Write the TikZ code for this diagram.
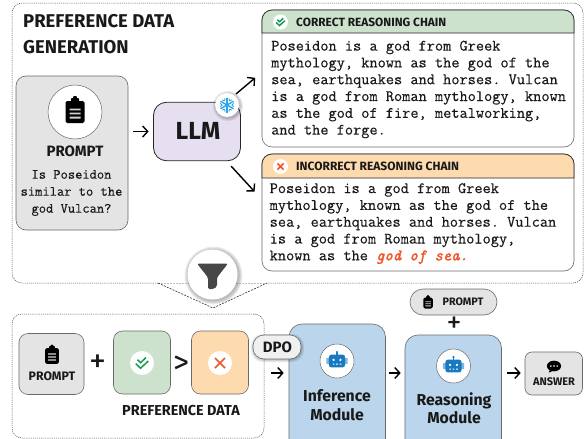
\documentclass[tikz,border=0pt]{standalone}
\usepackage{fontspec}
\setsansfont{Fira Sans}
\setmonofont[FakeBold=0.3]{Latin Modern Mono}
\usetikzlibrary{shadows,calc,arrows.meta}
\definecolor{boxgray}{HTML}{E4E4E4}
\definecolor{llmpurple}{HTML}{E6DFF0}
\definecolor{hdrgreen}{HTML}{CCE2CC}
\definecolor{hdrorange}{HTML}{FDDBAE}
\definecolor{modblue}{HTML}{BBD5EC}
\definecolor{okgreen}{HTML}{169A4F}
\definecolor{xorange}{HTML}{F0562A}
\definecolor{iceblue}{HTML}{2BA6E8}
\definecolor{robotblue}{HTML}{1878C0}
\definecolor{edgegray}{HTML}{6A6A6A}
\tikzset{
  x=1pt,y=-1pt,
  softbox/.style={draw=edgegray,line width=.6pt,rounded corners=#1,inner sep=0pt},
  softbox/.default=10pt,
  dashedge/.style={draw=black!70,line width=.5pt,dash pattern=on 1.1pt off 1pt},
  flowarrow/.style={draw=black,line width=1.4pt,-{Straight Barb[length=5pt,width=11pt,line width=1.4pt]}},
  iconring/.style={circle,fill=white,draw=edgegray,line width=.5pt,inner sep=0pt},
  iconspot/.style={circle,fill=white,inner sep=0pt},
  sanslabel/.style={font=\sffamily\bfseries,inner sep=0pt,text=black!90},
  monolabel/.style={font=\ttfamily\frenchspacing\fontsize{15.9}{16.8}\selectfont,align=left,inner sep=0pt,anchor=north west,text=black!90},
  iconclipboard/.pic={
    \fill[black,rounded corners=1.6] (-9.5,-9) rectangle (9.5,13);
    \fill[black,rounded corners=.8] (-4,-12) rectangle (4,-6);
    \fill[black] (0,-12) circle (2.2);
    \fill[white!82!black] (-5.5,-1.5) rectangle (5.5,.3) (-5.5,2.6) rectangle (5.5,4.4) (-5.5,6.7) rectangle (5.5,8.5);
  },
  iconchecks/.pic={
    \draw[okgreen,line width=1.5pt,line join=miter] (-5,-3.6) -- (-1.5,-.4) -- (4.4,-6);
    \draw[okgreen,line width=1.5pt,line join=miter] (-7,.7) -- (-1.6,5.8) -- (7,-2.2);
  },
  iconcross/.pic={
    \draw[xorange,line width=1.7pt] (-5,-5) -- (5,5) (-5,5) -- (5,-5);
  },
  iconflake/.pic={
    \foreach \a in {90,30,-30}{
      \draw[iceblue,line width=1.4pt] (\a:-7.5) -- (\a:7.5);
    }
    \foreach \a in {0,60,...,300}{
      \draw[iceblue,line width=.9pt] (\a:4.8) -- ++(\a+40:2.6) (\a:4.8) -- ++(\a-40:2.6);
    }
  },
  iconrobot/.pic={
    \fill[robotblue] (0,-10.5) circle (1.4);
    \fill[robotblue] (-.7,-10) rectangle (.7,-7);
    \fill[robotblue!55!white] (-12.5,-3.5) rectangle (-9,3.5) (9,-3.5) rectangle (12.5,3.5);
    \fill[robotblue,rounded corners=2.5] (-9.5,-7.5) rectangle (9.5,7.5);
    \fill[white] (-4,-1.3) circle (1.5) (4,-1.3) circle (1.5);
    \fill[white] (-5,3) rectangle (-3,4.3) (-1,3) rectangle (1,4.3) (3,3) rectangle (5,4.3);
  },
  iconfunnel/.pic={
    \fill[black!72,rounded corners=1.5] (-15.5,-13) -- (15.5,-13) -- (4.5,1) -- (4.5,10) -- (1,12.5) -- (-4.5,12.5) -- (-4.5,1) -- cycle;
  },
  iconbubble/.pic={
    \fill[black] (0,-.5) ellipse (7.5 and 5.6);
    \fill[black] (-4,2.5) -- (-5.5,6.5) -- (0,4) -- cycle;
    \fill[white] (-3.3,-.5) circle (.9) (0,-.5) circle (.9) (3.3,-.5) circle (.9);
  },
}
\begin{document}
\begin{tikzpicture}
\useasboundingbox (0,0) rectangle (584,439);
\clip (0,0) rectangle (584,439);
\fill[white] (0,0) rectangle (584,439);

% outer regions
\draw[dashedge,rounded corners=10pt] (158,283) -- (12,283) -- (12,3) -- (583,3) -- (583,283) -- (267,283);
\draw[black!25,line width=.4pt,dash pattern=on 1.5pt off 1.5pt] (158,283) -- (267,283);
\coordinate (tipL) at (158,283);
\coordinate (tipC) at (213,308);
\coordinate (tipR) at (267,283);
\draw[black!80,line width=.6pt,dash pattern=on 2pt off 1.2pt] (tipL) -- (tipC) -- (tipR);
\node[dashedge,draw,rounded corners=10pt,minimum width=252pt,minimum height=124pt,inner sep=0pt] (lowerzone) at (138,376) {};

% title
\node[sanslabel,font=\sffamily\bfseries\fontsize{18.5}{25.5}\selectfont,align=left,anchor=north west] (title) at (23,14.5) {PREFERENCE DATA\\GENERATION};

% prompt card
\node[softbox,fill=boxgray,minimum width=112pt,minimum height=154pt] (prompt) at (72,153) {};
\node[iconring,minimum size=54pt] (promptring) at (75,112) {};
\pic[scale=1] at (75,110) {iconclipboard};
\node[sanslabel,font=\sffamily\bfseries\fontsize{15}{17}\selectfont] (promptlabel) at (75,151) {PROMPT};
\node[font=\ttfamily\frenchspacing\fontsize{14.1}{17}\selectfont,align=center,inner sep=0pt,text=black!90] (prompttext) at (71.5,193) {Is Poseidon\\similar to the\\god Vulcan?};

% LLM
\node[draw=black!85,line width=.8pt,fill=llmpurple,rounded corners=13pt,minimum width=87pt,minimum height=58.5pt,inner sep=0pt] (llm) at (197,131.5) {};
\node[sanslabel,font=\sffamily\bfseries\fontsize{24.7}{27}\selectfont] (llmlabel) at (198,131) {LLM};
\foreach \r in {13,14,15}{\fill[black,opacity=.08] (228,106) circle (\r);}
\node[circle,fill=white,minimum size=24pt,inner sep=0pt] (snow) at (227,105) {};
\pic at (227,105) {iconflake};

% reasoning chains
\node[softbox=10pt,fill=white,minimum width=312pt,minimum height=137pt] (correct) at (418,78.5) {};
\draw[draw=black!85,line width=.7pt,fill=hdrgreen] (262,33) [rounded corners=10pt] -- (262,10) -- (574,10) [sharp corners] -- (574,33) -- cycle;
\node[iconspot,minimum size=15pt] (okspot) at (280.5,22) {};
\pic[scale=.62] at (280.5,22) {iconchecks};
\node[sanslabel,font=\sffamily\bfseries\fontsize{11.9}{13}\selectfont,anchor=west] (correcthead) at (296,22) {CORRECT REASONING CHAIN};
\node[monolabel] (correcttext) at (271,40.5) {Poseidon is a god from Greek\\mythology, known as the god of the\\sea, earthquakes and horses. Vulcan\\is a god from Roman mythology, known\\as the god of fire, metalworking,\\and the forge.};

\node[softbox=10pt,fill=white,minimum width=312pt,minimum height=117pt] (incorrect) at (418,212.5) {};
\draw[draw=black!85,line width=.7pt,fill=hdrorange] (262,178) [rounded corners=10pt] -- (262,154) -- (574,154) [sharp corners] -- (574,178) -- cycle;
\node[iconspot,minimum size=15pt] (xspot) at (280.5,166.5) {};
\pic[scale=.62] at (280.5,166.5) {iconcross};
\node[sanslabel,font=\sffamily\bfseries\fontsize{12}{13}\selectfont,anchor=west] (incorrecthead) at (296,166.5) {INCORRECT REASONING CHAIN};
\node[monolabel] (incorrecttext) at (269.5,183) {Poseidon is a god from Greek\\mythology, known as the god of the\\sea, earthquakes and horses. Vulcan\\is a god from Roman mythology,\\known as the {\color{xorange}\itshape\addfontfeature{FakeBold=2}god of sea.}};

% top arrows
\draw[flowarrow,shorten <=5pt,shorten >=4.5pt] (prompt.east |- llm.west) -- (llm.west);
\coordinate (upS) at (226,102.5);
\coordinate (upE) at (262,72);
\coordinate (dnS) at (226.4,161);
\coordinate (dnE) at (262,199.7);
\draw[flowarrow,shorten <=13pt,shorten >=9pt] (upS) -- (upE);
\draw[flowarrow,shorten <=7pt,shorten >=11pt] (dnS) -- (dnE);

% funnel
\foreach \r in {26,27,28,29}{\fill[black,opacity=.07] (213.5,275.5) circle (\r);}
\node[circle,fill=white,minimum size=50pt,inner sep=0pt] (filter) at (212.5,274.5) {};
\pic at (212.5,276.5) {iconfunnel};

% preference data
\node[softbox=9pt,fill=boxgray,minimum width=65pt,minimum height=61pt] (smallprompt) at (51.5,364) {};
\pic[scale=.72] at (52,354.5) {iconclipboard};
\node[sanslabel,font=\sffamily\bfseries\fontsize{12.3}{14}\selectfont] (smallpromptlabel) at (52,376) {PROMPT};
\node[softbox=9pt,fill=hdrgreen,minimum width=57pt,minimum height=63pt] (good) at (142,362.5) {};
\node[iconspot,minimum size=24pt] (goodspot) at (142,363) {};
\pic[scale=.9] at (142,363) {iconchecks};
\node[softbox=9pt,fill=hdrorange,minimum width=57pt,minimum height=63pt] (bad) at (220,362.5) {};
\node[iconspot,minimum size=24pt] (badspot) at (220,363) {};
\pic[scale=1] at (220,363) {iconcross};
\node[sanslabel,font=\sffamily\fontsize{34}{36}\selectfont\mdseries] (plusa) at (98,364) {+};
\node[sanslabel,font=\sffamily\fontsize{32}{34}\selectfont\mdseries] (gt) at (181,365) {>};
\node[sanslabel,font=\sffamily\bfseries\fontsize{14.4}{16}\selectfont] (preflabel) at (181,411) {PREFERENCE DATA};

% modules
\node[softbox=13pt,fill=modblue,minimum width=96.5pt,minimum height=130pt] (inference) at (337.25,389) {};
\node[iconring,minimum size=34pt] (infring) at (337,361) {};
\pic[scale=.85] at (337,361) {iconrobot};
\node[sanslabel,font=\sffamily\bfseries\fontsize{15.8}{18.5}\selectfont,align=center] (inflabel) at (337,405) {Inference\\Module};

\node[softbox=13pt,fill=modblue,minimum width=96.5pt,minimum height=130pt] (reasoning) at (453.25,400) {};
\node[iconring,minimum size=34pt] (reasring) at (453.5,366) {};
\pic[scale=.85] at (453.5,366) {iconrobot};
\node[sanslabel,font=\sffamily\bfseries\fontsize{15.8}{18.5}\selectfont,align=center] (reaslabel) at (454,408) {Reasoning\\Module};

% DPO
\foreach \g in {1,2,3}{\fill[black,opacity=.09,rounded corners=12pt] ($(253,335)+(-\g+1,-\g+2)$) rectangle ($(301,359)+(\g,\g)$);}
\node[draw=edgegray,line width=.6pt,fill=black!6,rounded corners=11pt,minimum width=48pt,minimum height=24pt,inner sep=0pt] (dpo) at (277,347) {};
\node[sanslabel,font=\sffamily\bfseries\fontsize{15}{17}\selectfont] (dpolabel) at (277.5,347) {DPO};

% prompt pill
\node[softbox=13pt,fill=boxgray,minimum width=87pt,minimum height=26pt] (pillprompt) at (453.5,302) {};
\pic[scale=.5] at (428,302) {iconclipboard};
\node[sanslabel,font=\sffamily\bfseries\fontsize{10.8}{12}\selectfont] (pilllabel) at (463,301.5) {PROMPT};
\node[sanslabel,font=\sffamily\fontsize{30}{32}\selectfont\mdseries] (plusb) at (454,325) {+};

% answer
\node[softbox=7pt,fill=boxgray,minimum width=57.5pt,minimum height=43pt] (answer) at (553.75,373.5) {};
\pic[scale=.95] at (554,366.5) {iconbubble};
\node[sanslabel,font=\sffamily\bfseries\fontsize{11}{13}\selectfont] (answerlabel) at (554,381.5) {ANSWER};

% flow arrows
\coordinate (flowin) at (266,373);
\draw[flowarrow,shorten <=5pt,shorten >=5pt] (flowin) -- (inference.west |- flowin);
\draw[flowarrow,shorten <=3pt,shorten >=4pt] (inference.east |- flowin) -- (reasoning.west |- flowin);
\draw[flowarrow,shorten <=5.5pt,shorten >=4pt] (reasoning.east |- flowin) -- (answer.west |- flowin);
\end{tikzpicture}
\end{document}
